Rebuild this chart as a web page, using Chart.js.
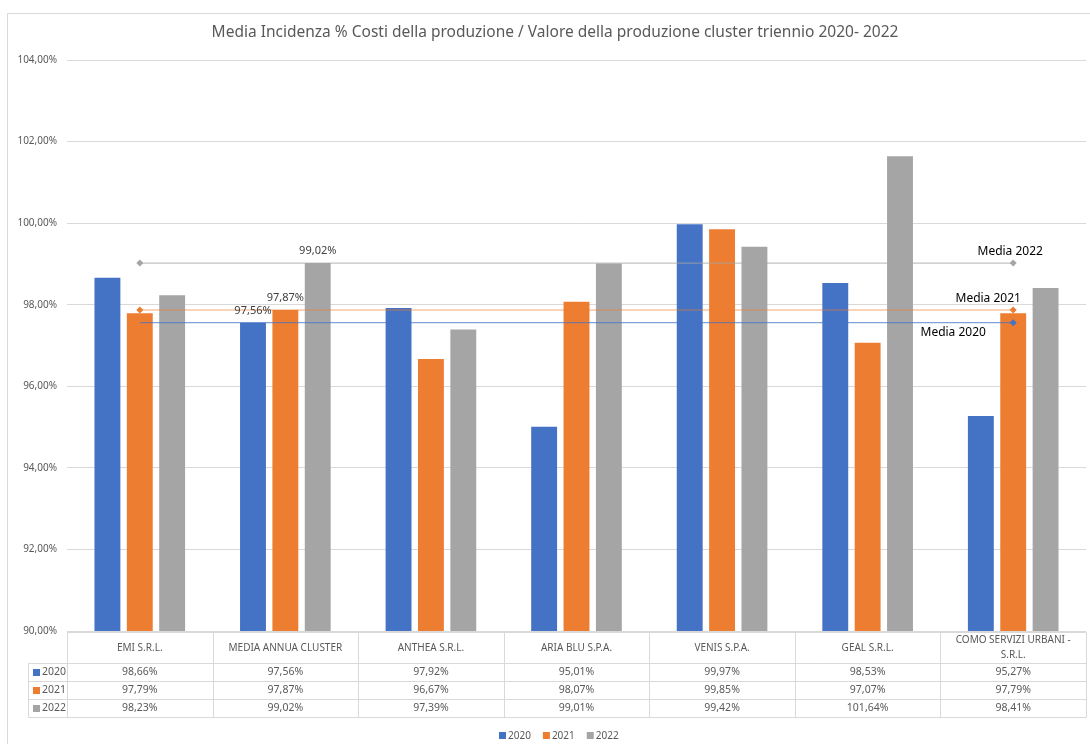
<!DOCTYPE html>
<html lang="it">
<head>
<meta charset="utf-8">
<title>Media Incidenza % Costi della produzione</title>
<script src="https://cdn.jsdelivr.net/npm/chart.js@4.4.1/dist/chart.umd.min.js"></script>
<style>
    html, body { margin: 0; padding: 0; background: #fff; }
    #wrap { position: relative; width: 1090px; height: 744px; }
</style>
</head>
<body>
<div id="wrap"><canvas id="grafico" width="1090" height="744"></canvas></div>
<script>
// ── Dati ──
const CATEGORIE = ['EMI S.R.L.', 'MEDIA ANNUA CLUSTER', 'ANTHEA S.R.L.', 'ARIA BLU S.P.A.',
                   'VENIS S.P.A.', 'GEAL S.R.L.', ['COMO SERVIZI URBANI -', 'S.R.L.']];
const ANNI = ['2020', '2021', '2022'];
const VAL_2020 = [98.66, 97.56, 97.92, 95.01, 99.97, 98.53, 95.27];
const VAL_2021 = [97.79, 97.87, 96.67, 98.07, 99.85, 97.07, 97.79];
const VAL_2022 = [98.23, 99.02, 97.39, 99.01, 99.42, 101.64, 98.41];
const MEDIE    = [97.56, 97.87, 99.02];   // media annua cluster 2020, 2021, 2022
const TICK_Y   = [90, 92, 94, 96, 98, 100, 102, 104];

const COLORI  = ['#4472C4', '#ED7D31', '#A5A5A5'];
const GRIGIO  = '#595959';
const BORDO   = '#d9d9d9';
const FONT    = '"Noto Sans", "Open Sans", sans-serif';

function percento(v) {
    return v.toFixed(2).replace('.', ',') + '%';
}

const serie = [VAL_2020, VAL_2021, VAL_2022];
const ultimo = CATEGORIE.length - 1;

// barre
const datasetBarre = serie.map((valori, i) => ({
    type: 'bar',
    label: ANNI[i],
    data: valori,
    backgroundColor: COLORI[i],
    categoryPercentage: 0.667,
    barPercentage: 0.8,
    order: 2,
}));

// linee delle medie: dal primo all'ultimo cluster (sopra le barre)
const marker = [[0, 3.5], [3.5, 3.5], [3.5, 3.5]];
const datasetMedie = MEDIE.map((m, i) => {
    const punti = CATEGORIE.map(() => null);
    punti[0] = m;
    punti[ultimo] = m;
    return {
        type: 'line',
        label: 'Media ' + ANNI[i],
        data: punti,
        spanGaps: true,
        borderColor: COLORI[i] + 'aa',
        borderWidth: 1.2,
        pointStyle: 'rectRot',
        pointRadius: [marker[i][0], 0, 0, 0, 0, 0, marker[i][1]],
        pointBackgroundColor: COLORI[i],
        pointBorderWidth: 0,
        order: 1,
    };
});

// ── Titolo, bordo, legenda, etichette ──
const decorazioni = {
    id: 'decorazioni',
    beforeDraw(chart) {
        const ctx = chart.ctx;
        ctx.save();
        ctx.strokeStyle = BORDO;
        ctx.lineWidth = 1;
        ctx.strokeRect(7.5, 13.5, 1200, 1000);
        ctx.fillStyle = GRIGIO;
        ctx.font = `15.5px ${FONT}`;
        ctx.textAlign = 'center';
        ctx.textBaseline = 'middle';
        ctx.fillText('Media Incidenza % Costi della produzione / Valore della produzione cluster triennio 2020- 2022', 555, 33);

        // legenda in basso
        ctx.font = `10px ${FONT}`;
        ctx.textAlign = 'left';
        let x = 499;
        ANNI.forEach((anno, i) => {
            ctx.fillStyle = COLORI[i];
            ctx.fillRect(x, 732, 7, 7);
            ctx.fillStyle = GRIGIO;
            ctx.fillText(anno, x + 9, 736);
            x += 9 + ctx.measureText(anno).width + 12;
        });
        ctx.restore();
    },
    afterDatasetsDraw(chart) {
        const ctx = chart.ctx;
        ctx.save();
        ctx.textAlign = 'center';
        ctx.textBaseline = 'middle';
        // etichette sulla colonna MEDIA ANNUA CLUSTER
        ctx.font = `11px ${FONT}`;
        ctx.fillStyle = '#404040';
        [0, 1, 2].forEach(d => {
            const el = chart.getDatasetMeta(d).data[1];
            ctx.fillText(percento(serie[d][1]), el.x, el.y - 12);
        });
        // etichette "Media 20xx"
        const spost = [[-60, 10], [-25, -11], [-3, -12]];
        ctx.font = `12px ${FONT}`;
        ctx.fillStyle = '#000';
        [3, 4, 5].forEach((d, i) => {
            const p = chart.getDatasetMeta(d).data[ultimo];
            ctx.fillText('Media ' + ANNI[i], p.x + spost[i][0], p.y + spost[i][1]);
        });
        ctx.restore();
    },
};

// ── Tabella dati sotto il grafico ──
const tabellaDati = {
    id: 'tabellaDati',
    afterDraw(chart) {
        const ctx = chart.ctx;
        const a = chart.chartArea;
        const n = CATEGORIE.length;
        const colW = (a.right - a.left) / n;
        const top = Math.round(a.bottom) + 1.5;
        const hHead = 31, hRiga = 18;
        const sx = 28.5;
        const fondo = top + hHead + hRiga * 3;

        ctx.save();
        ctx.strokeStyle = BORDO;
        ctx.lineWidth = 1;
        ctx.beginPath();
        ctx.moveTo(a.left, top); ctx.lineTo(a.right, top);
        for (let r = 0; r <= 3; r++) {
            const y = top + hHead + r * hRiga;
            ctx.moveTo(sx, y); ctx.lineTo(a.right, y);
        }
        for (let c = 0; c <= n; c++) {
            const x = Math.round(a.left + c * colW) + 0.5;
            ctx.moveTo(x, top); ctx.lineTo(x, fondo);
        }
        ctx.moveTo(sx, top + hHead); ctx.lineTo(sx, fondo);
        ctx.stroke();

        ctx.fillStyle = GRIGIO;
        ctx.font = `10px ${FONT}`;
        ctx.textAlign = 'center';
        ctx.textBaseline = 'middle';
        CATEGORIE.forEach((cat, c) => {
            const cx = a.left + (c + 0.5) * colW;
            const righe = Array.isArray(cat) ? cat : [cat];
            righe.forEach((t, k) => {
                ctx.fillText(t, cx, top + hHead / 2 + (k - (righe.length - 1) / 2) * 15);
            });
        });
        ctx.font = `10.5px ${FONT}`;
        CATEGORIE.forEach((cat, c) => {
            const cx = a.left + (c + 0.5) * colW;
            serie.forEach((valori, r) => {
                ctx.fillText(percento(valori[c]), cx, top + hHead + hRiga * r + hRiga / 2);
            });
        });

        ctx.textAlign = 'left';
        ANNI.forEach((anno, r) => {
            const y = top + hHead + hRiga * r + hRiga / 2;
            ctx.fillStyle = COLORI[r];
            ctx.fillRect(33, y - 3.5, 7, 7);
            ctx.fillStyle = GRIGIO;
            ctx.fillText(anno, 42, y);
        });
        ctx.restore();
    },
};

new Chart(document.getElementById('grafico'), {
    type: 'bar',
    data: {
        labels: CATEGORIE,
        datasets: [...datasetBarre, ...datasetMedie],
    },
    options: {
        responsive: false,
        animation: false,
        layout: { padding: { top: 60, right: 2, left: 0, bottom: 0 } },
        scales: {
            x: {
                grid: { display: false },
                border: { display: false },
                ticks: { display: false },
                afterFit(scale) { scale.height = 113; },
            },
            y: {
                min: TICK_Y[0],
                max: TICK_Y[TICK_Y.length - 1],
                afterBuildTicks(scale) { scale.ticks = TICK_Y.map(v => ({ value: v })); },
                grid: { color: BORDO, drawTicks: false },
                border: { display: false },
                ticks: {
                    padding: 10,
                    color: GRIGIO,
                    font: { size: 10, family: FONT },
                    callback: v => percento(v),
                },
                afterFit(scale) { scale.width = 67; },
            },
        },
        plugins: {
            title: { display: false },
            tooltip: { enabled: false },
            legend: { display: false },
        },
    },
    plugins: [decorazioni, tabellaDati],
});
</script>
</body>
</html>
